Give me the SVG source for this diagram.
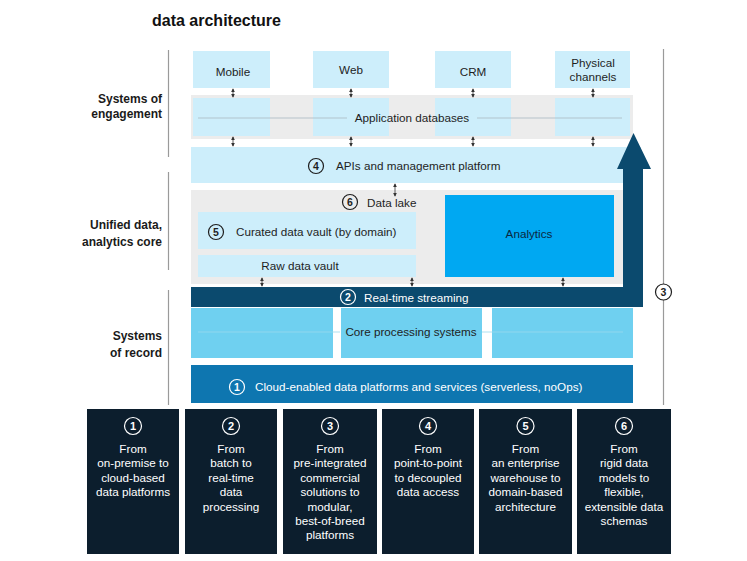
<svg xmlns="http://www.w3.org/2000/svg" width="747" height="561" viewBox="0 0 747 561">
<style>
  text { font-family: "Liberation Sans", Arial, sans-serif; }
  .t { font-size: 11.7px; fill: #1e1e1e; }
  .tc { font-size: 11.7px; fill: #1e1e1e; text-anchor: middle; }
  .w { font-size: 11.7px; fill: #ffffff; }
  .wc { font-size: 11.7px; fill: #ffffff; text-anchor: middle; }
  .lbl { font-size: 12px; font-weight: bold; fill: #1a1a1a; text-anchor: end; }
  .lb { fill: #cdeefb; }
  .num { font-size: 10.5px; font-weight: bold; text-anchor: middle; }
  .cd { fill: none; stroke: #1e1e1e; stroke-width: 1.2; }
  .cw { fill: none; stroke: #ffffff; stroke-width: 1.2; }
  .sep { stroke: #9a9a9a; stroke-width: 1.2; }
  .arr { stroke: #333333; stroke-width: 0.8; fill: none; marker-start: url(#ah); marker-end: url(#ah); }
  .bot { fill: #0c1e2d; }
</style>
<defs>
  <marker id="ah" viewBox="0 0 6 6" refX="5" refY="3" markerWidth="4" markerHeight="4" orient="auto-start-reverse" markerUnits="userSpaceOnUse">
    <path d="M0,0 L6,3 L0,6 z" fill="#333333"/>
  </marker>
</defs>
<rect width="747" height="561" fill="#ffffff"/>

<text x="152" y="26" style="font-size:16px;font-weight:bold;fill:#111">data architecture</text>

<g id="layer-labels">
  <line class="sep" x1="168.5" y1="50" x2="168.5" y2="157"/>
  <line class="sep" x1="168.5" y1="172" x2="168.5" y2="270"/>
  <line class="sep" x1="168.5" y1="290" x2="168.5" y2="405"/>
  <text class="lbl" x="162" y="103">Systems of</text>
  <text class="lbl" x="162" y="118">engagement</text>
  <text class="lbl" x="162" y="229">Unified data,</text>
  <text class="lbl" x="162" y="246">analytics core</text>
  <text class="lbl" x="162" y="340">Systems</text>
  <text class="lbl" x="162" y="357">of record</text>
</g>

<g id="channels">
  <rect class="lb" x="193" y="51" width="77" height="37"/>
  <text class="tc" x="233" y="76">Mobile</text>
  <rect class="lb" x="313" y="51" width="76" height="37"/>
  <text class="tc" x="351" y="74">Web</text>
  <rect class="lb" x="435" y="51" width="76" height="37"/>
  <text class="tc" x="473" y="76">CRM</text>
  <rect class="lb" x="555" y="51" width="75" height="37"/>
  <text class="tc" x="593" y="67">Physical</text>
  <text class="tc" x="593" y="81">channels</text>
</g>

<g id="app-databases">
  <rect x="191" y="95" width="442" height="44" fill="#ececec"/>
  <rect class="lb" x="193" y="98" width="77" height="38"/>
  <rect class="lb" x="313" y="98" width="76" height="38"/>
  <rect class="lb" x="435" y="98" width="76" height="38"/>
  <rect class="lb" x="555" y="98" width="75" height="38"/>
  <line x1="198" y1="118" x2="347" y2="118" stroke="#a9b9c3" stroke-width="0.8"/>
  <line x1="477" y1="118" x2="622" y2="118" stroke="#a9b9c3" stroke-width="0.8"/>
  <text class="tc" x="412" y="122">Application databases</text>
</g>

<g id="apis">
  <rect class="lb" x="191" y="147" width="450" height="36"/>
  <circle class="cd" cx="316" cy="166" r="7.5"/>
  <text class="num" x="316" y="169.8" fill="#1e1e1e">4</text>
  <text class="t" x="336" y="170">APIs and management platform</text>
</g>

<g id="data-lake">
  <rect x="191" y="190" width="432" height="94" fill="#ececec"/>
  <circle class="cd" cx="350" cy="202" r="7.5"/>
  <text class="num" x="350" y="205.8" fill="#1e1e1e">6</text>
  <text class="t" x="367" y="206.5">Data lake</text>
</g>

<g id="curated-vault">
  <rect class="lb" x="198" y="212" width="218" height="37"/>
  <circle class="cd" cx="216" cy="232" r="7.5"/>
  <text class="num" x="216" y="235.8" fill="#1e1e1e">5</text>
  <text class="t" x="236" y="236">Curated data vault (by domain)</text>
</g>

<g id="raw-vault">
  <rect class="lb" x="198" y="255" width="218" height="22"/>
  <text class="tc" x="300" y="270">Raw data vault</text>
</g>

<g id="analytics">
  <rect x="445" y="195" width="169" height="82" fill="#00a8f2"/>
  <text class="tc" x="529" y="238" style="fill:#0b2740">Analytics</text>
</g>

<g id="streaming">
  <path d="M191,287 H623 V169 H617 L633.5,133 L651,169 H643 V307 H191 Z" fill="#0b4a6e"/>
  <circle class="cw" cx="348" cy="297" r="7.5"/>
  <text class="num" x="348" y="300.8" fill="#ffffff">2</text>
  <text class="w" x="364" y="301.5">Real-time streaming</text>
</g>

<g id="core-processing">
  <rect x="191" y="308" width="142" height="50" fill="#6fd0f0"/>
  <rect x="341" y="308" width="141" height="50" fill="#6fd0f0"/>
  <rect x="492" y="308" width="141" height="50" fill="#6fd0f0"/>
  <line x1="198" y1="332" x2="340" y2="332" stroke="#9bd9ee" stroke-width="0.8"/>
  <line x1="482" y1="332" x2="623" y2="332" stroke="#9bd9ee" stroke-width="0.8"/>
  <text class="tc" x="411" y="336">Core processing systems</text>
</g>

<g id="cloud-platforms">
  <rect x="191" y="365" width="442" height="38" fill="#0e76b0"/>
  <circle class="cw" cx="237" cy="387" r="7.5"/>
  <text class="num" x="237" y="390.8" fill="#ffffff">1</text>
  <text class="w" x="255" y="391">Cloud-enabled data platforms and services (serverless, noOps)</text>
</g>

<g id="scope-3">
  <line class="sep" x1="663.5" y1="49" x2="663.5" y2="284"/>
  <line class="sep" x1="663.5" y1="300" x2="663.5" y2="405"/>
  <circle class="cd" cx="663.5" cy="292" r="8"/>
  <text class="num" x="663.5" y="295.8" fill="#1e1e1e">3</text>
</g>

<g id="connectors">
  <line class="arr" x1="233" y1="89" x2="233" y2="97"/>
  <line class="arr" x1="351" y1="89" x2="351" y2="97"/>
  <line class="arr" x1="473" y1="89" x2="473" y2="97"/>
  <line class="arr" x1="593" y1="89" x2="593" y2="97"/>
  <line class="arr" x1="233" y1="137" x2="233" y2="146"/>
  <line class="arr" x1="351" y1="137" x2="351" y2="146"/>
  <line class="arr" x1="473" y1="137" x2="473" y2="146"/>
  <line class="arr" x1="593" y1="137" x2="593" y2="146"/>
  <line class="arr" x1="395" y1="184" x2="395" y2="196"/>
  <line class="arr" x1="262" y1="278" x2="262" y2="286"/>
  <line class="arr" x1="412" y1="278" x2="412" y2="286"/>
  <line class="arr" x1="563" y1="278" x2="563" y2="286"/>
</g>

<g id="shift-1">
  <rect class="bot" x="87" y="409" width="92" height="145"/>
  <circle class="cw" cx="133" cy="426" r="8.5"/>
  <text class="num" x="133" y="430" fill="#ffffff" style="font-size:11px">1</text>
  <text class="wc" x="133" y="453">From</text>
  <text class="wc" x="133" y="467.4">on-premise to</text>
  <text class="wc" x="133" y="481.8">cloud-based</text>
  <text class="wc" x="133" y="496.2">data platforms</text>
</g>
<g id="shift-2">
  <rect class="bot" x="185" y="409" width="92" height="145"/>
  <circle class="cw" cx="231" cy="426" r="8.5"/>
  <text class="num" x="231" y="430" fill="#ffffff" style="font-size:11px">2</text>
  <text class="wc" x="231" y="453">From</text>
  <text class="wc" x="231" y="467.4">batch to</text>
  <text class="wc" x="231" y="481.8">real-time</text>
  <text class="wc" x="231" y="496.2">data</text>
  <text class="wc" x="231" y="510.6">processing</text>
</g>
<g id="shift-3">
  <rect class="bot" x="283" y="409" width="94" height="145"/>
  <circle class="cw" cx="330" cy="426" r="8.5"/>
  <text class="num" x="330" y="430" fill="#ffffff" style="font-size:11px">3</text>
  <text class="wc" x="330" y="453">From</text>
  <text class="wc" x="330" y="467.4">pre-integrated</text>
  <text class="wc" x="330" y="481.8">commercial</text>
  <text class="wc" x="330" y="496.2">solutions to</text>
  <text class="wc" x="330" y="510.6">modular,</text>
  <text class="wc" x="330" y="525">best-of-breed</text>
  <text class="wc" x="330" y="539.4">platforms</text>
</g>
<g id="shift-4">
  <rect class="bot" x="382" y="409" width="92" height="145"/>
  <circle class="cw" cx="428" cy="426" r="8.5"/>
  <text class="num" x="428" y="430" fill="#ffffff" style="font-size:11px">4</text>
  <text class="wc" x="428" y="453">From</text>
  <text class="wc" x="428" y="467.4">point-to-point</text>
  <text class="wc" x="428" y="481.8">to decoupled</text>
  <text class="wc" x="428" y="496.2">data access</text>
</g>
<g id="shift-5">
  <rect class="bot" x="479" y="409" width="93" height="145"/>
  <circle class="cw" cx="525.5" cy="426" r="8.5"/>
  <text class="num" x="525.5" y="430" fill="#ffffff" style="font-size:11px">5</text>
  <text class="wc" x="525.5" y="453">From</text>
  <text class="wc" x="525.5" y="467.4">an enterprise</text>
  <text class="wc" x="525.5" y="481.8">warehouse to</text>
  <text class="wc" x="525.5" y="496.2">domain-based</text>
  <text class="wc" x="525.5" y="510.6">architecture</text>
</g>
<g id="shift-6">
  <rect class="bot" x="577" y="409" width="94" height="145"/>
  <circle class="cw" cx="624" cy="426" r="8.5"/>
  <text class="num" x="624" y="430" fill="#ffffff" style="font-size:11px">6</text>
  <text class="wc" x="624" y="453">From</text>
  <text class="wc" x="624" y="467.4">rigid data</text>
  <text class="wc" x="624" y="481.8">models to</text>
  <text class="wc" x="624" y="496.2">flexible,</text>
  <text class="wc" x="624" y="510.6">extensible data</text>
  <text class="wc" x="624" y="525">schemas</text>
</g>
</svg>
